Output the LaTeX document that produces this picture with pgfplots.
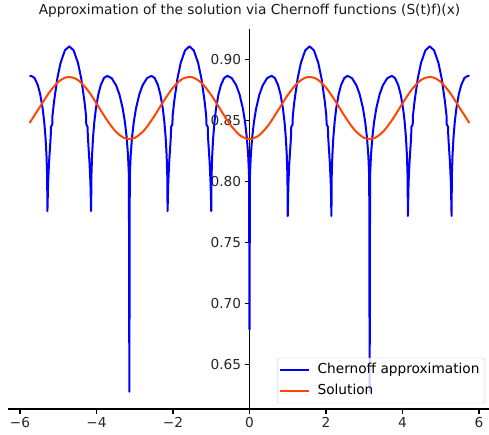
\documentclass[border=0pt]{standalone}
\usepackage{fontspec}
\setmainfont{DejaVu Sans}
\usepackage{pgfplots}
\pgfplotsset{compat=1.18}
\definecolor{chblue}{RGB}{0,0,255}
\definecolor{solorange}{RGB}{255,69,0}
\begin{document}
\begin{tikzpicture}[x=1pt,y=1pt]
\useasboundingbox (0,0) rectangle (489,434);
\begin{axis}[
 at={(7.6pt,25pt)}, anchor=south west,
 scale only axis, width=483.8pt, height=380pt,
 xmin=-6.325, xmax=6.325, ymin=0.6139, ymax=0.9252,
 axis x line=bottom, axis y line=middle,
 hide obscured x ticks=false, hide obscured y ticks=false,
 axis line style={-, black, line width=1.1pt},
 tick align=outside, major tick length=4.8pt,
 every tick/.style={black, line width=1.1pt},
 xtick={-6,-4,-2,0,2,4,6}, xticklabels={−6,−4,−2,0,2,4,6},
 ytick={0.65,0.70,0.75,0.80,0.85,0.90}, yticklabels={0.65,0.70,0.75,0.80,0.85,0.90},
 tick label style={font=\fontsize{13.7}{16}\selectfont, text=black!85},
 title={Approximation of the solution via Chernoff functions (S(t)f)(x)},
 title style={font=\fontsize{13.7}{16}\selectfont, text=black!90, at={(0.5,1)}, anchor=base, yshift=8pt},
 legend style={at={(1,0)}, anchor=south east, xshift=-6.3pt, yshift=5.8pt, draw=black!20, rounded corners=2.5pt, fill=white, fill opacity=0.8, text opacity=1, font=\fontsize{13.7}{16}\selectfont, row sep=0pt, column sep=4pt, inner xsep=1.5pt, inner ysep=1pt, nodes={inner sep=3.9pt, text height=10.4pt, text depth=3.3pt}},
 legend cell align=left,
 legend image code/.code={\draw[#1] (0pt,0pt) -- (29pt,0pt);},
]
\addplot[chblue, line width=2pt, line join=round] coordinates {
(-5.75,0.8865) (-5.7032,0.8868) (-5.6192,0.885) (-5.5352,0.8792) (-5.4722,0.8717) (-5.4092,0.8602) (-5.3672,0.849) (-5.3336,0.8362) (-5.3084,0.8217) (-5.2916,0.805) (-5.2836,0.776)
(-5.2656,0.7991) (-5.2426,0.8152) (-5.1976,0.8375) (-5.1916,0.845) (-5.1576,0.847) (-5.1516,0.854) (-5.1116,0.8655) (-5.0266,0.8844) (-4.9406,0.8974) (-4.8266,0.9077) (-4.7126,0.911)
(-4.5986,0.9077) (-4.4846,0.8974) (-4.3986,0.8844) (-4.3136,0.8655) (-4.2736,0.854) (-4.2676,0.847) (-4.2336,0.845) (-4.2276,0.8375) (-4.1826,0.8152) (-4.1596,0.7991) (-4.1416,0.776)
(-4.1332,0.805) (-4.1164,0.8217) (-4.0912,0.8362) (-4.0576,0.849) (-4.0156,0.8602) (-3.9526,0.8717) (-3.8896,0.8792) (-3.8056,0.885) (-3.7216,0.8868)
(-3.6056,0.885) (-3.4896,0.8792) (-3.4026,0.8717) (-3.3156,0.8602) (-3.2576,0.849) (-3.2112,0.8362) (-3.1764,0.8217) (-3.1532,0.805) (-3.1416,0.628)
(-3.130,0.805) (-3.1068,0.8217) (-3.072,0.8362) (-3.0256,0.849) (-2.9676,0.8602) (-2.8806,0.8717) (-2.7936,0.8792) (-2.6776,0.885) (-2.5616,0.8868)
(-2.4776,0.885) (-2.3936,0.8792) (-2.3306,0.8717) (-2.2676,0.8602) (-2.2256,0.849) (-2.192,0.8362) (-2.1668,0.8217) (-2.150,0.805) (-2.142,0.776)
(-2.124,0.7991) (-2.101,0.8152) (-2.056,0.8375) (-2.050,0.845) (-2.016,0.847) (-2.010,0.854) (-1.970,0.8655) (-1.885,0.8844) (-1.799,0.8974) (-1.685,0.9077) (-1.571,0.911)
(-1.457,0.9077) (-1.343,0.8974) (-1.257,0.8844) (-1.172,0.8655) (-1.132,0.854) (-1.126,0.847) (-1.092,0.845) (-1.086,0.8375) (-1.041,0.8152) (-1.018,0.7991) (-1.0,0.776)
(-0.9916,0.805) (-0.9748,0.8217) (-0.9496,0.8362) (-0.916,0.849) (-0.874,0.8602) (-0.811,0.8717) (-0.748,0.8792) (-0.664,0.885) (-0.58,0.8868)
(-0.464,0.885) (-0.348,0.8792) (-0.261,0.8717) (-0.174,0.8602) (-0.116,0.849) (-0.0696,0.8362) (-0.0348,0.8217) (-0.0116,0.805) (0,0.679)
(0.0116,0.805) (0.0348,0.8217) (0.0696,0.8362) (0.116,0.849) (0.174,0.8602) (0.261,0.8717) (0.348,0.8792) (0.464,0.885) (0.58,0.8868)
(0.664,0.885) (0.748,0.8792) (0.811,0.8717) (0.874,0.8602) (0.916,0.849) (0.9496,0.8362) (0.9748,0.8217) (0.9916,0.805) (1.0,0.772)
(1.018,0.7991) (1.041,0.8152) (1.086,0.8375) (1.092,0.845) (1.126,0.847) (1.132,0.854) (1.172,0.8655) (1.257,0.8844) (1.343,0.8974) (1.457,0.9077) (1.571,0.911)
(1.685,0.9077) (1.799,0.8974) (1.885,0.8844) (1.970,0.8655) (2.010,0.854) (2.016,0.847) (2.050,0.845) (2.056,0.8375) (2.101,0.8152) (2.124,0.7991) (2.142,0.772)
(2.150,0.805) (2.1668,0.8217) (2.192,0.8362) (2.2256,0.849) (2.2676,0.8602) (2.3306,0.8717) (2.3936,0.8792) (2.4776,0.885) (2.5616,0.8868)
(2.6776,0.885) (2.7936,0.8792) (2.8806,0.8717) (2.9676,0.8602) (3.0256,0.849) (3.072,0.8362) (3.1068,0.8217) (3.130,0.805) (3.1416,0.628)
(3.1532,0.805) (3.1764,0.8217) (3.2112,0.8362) (3.2576,0.849) (3.3156,0.8602) (3.4026,0.8717) (3.4896,0.8792) (3.6056,0.885) (3.7216,0.8868)
(3.8056,0.885) (3.8896,0.8792) (3.9526,0.8717) (4.0156,0.8602) (4.0576,0.849) (4.0912,0.8362) (4.1164,0.8217) (4.1332,0.805) (4.1416,0.772)
(4.1596,0.7991) (4.1826,0.8152) (4.2276,0.8375) (4.2336,0.845) (4.2676,0.847) (4.2736,0.854) (4.3136,0.8655) (4.3986,0.8844) (4.4846,0.8974) (4.5986,0.9077) (4.7126,0.911)
(4.8266,0.9077) (4.9406,0.8974) (5.0266,0.8844) (5.1116,0.8655) (5.1516,0.854) (5.1576,0.847) (5.1916,0.845) (5.1976,0.8375) (5.2426,0.8152) (5.2656,0.7991) (5.2836,0.772)
(5.2916,0.805) (5.3084,0.8217) (5.3336,0.8362) (5.3672,0.849) (5.4092,0.8602) (5.4722,0.8717) (5.5352,0.8792) (5.6192,0.885) (5.7032,0.8868) (5.75,0.8865)
};
\addlegendentry{Chernoff approximation}
\addplot[solorange, line width=2pt, smooth] coordinates {
(-5.75,0.8482) (-5.5,0.8604) (-5.25,0.8726) (-5,0.8819) (-4.75,0.8859) (-4.5,0.8837) (-4.25,0.8759) (-4,0.8642) (-3.75,0.8517) (-3.5,0.8413) (-3.25,0.8356) (-3,0.8360)
(-2.75,0.8424) (-2.5,0.8533) (-2.25,0.8659) (-2,0.8772) (-1.75,0.8844) (-1.5,0.8857) (-1.25,0.8809) (-1,0.8711) (-0.75,0.8587) (-0.5,0.8467) (-0.25,0.8381) (0,0.835)
(0.25,0.8381) (0.5,0.8467) (0.75,0.8587) (1,0.8711) (1.25,0.8809) (1.5,0.8857) (1.75,0.8844) (2,0.8772) (2.25,0.8659) (2.5,0.8533) (2.75,0.8424) (3,0.8360)
(3.25,0.8356) (3.5,0.8413) (3.75,0.8517) (4,0.8642) (4.25,0.8759) (4.5,0.8837) (4.75,0.8859) (5,0.8819) (5.25,0.8726) (5.5,0.8604) (5.75,0.8482)
};
\addlegendentry{Solution}
\end{axis}
\end{tikzpicture}
\end{document}
